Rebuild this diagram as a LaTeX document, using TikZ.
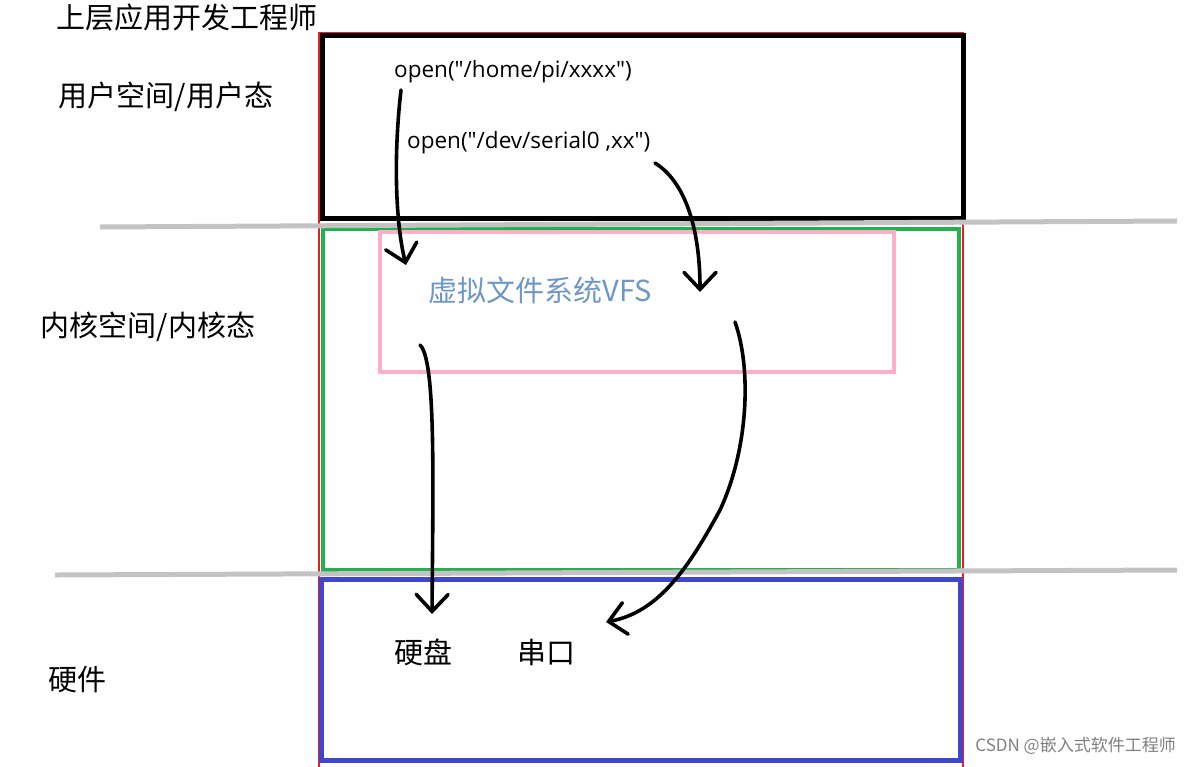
\documentclass[tikz,border=0pt]{standalone}
\usepackage{fontspec}
\setmainfont{Noto Sans CJK SC}
\newfontfamily\callfont{Open Sans}[Ligatures=TeXOff]
\usetikzlibrary{arrows.meta}
\definecolor{paintred}{RGB}{237,28,36}
\definecolor{paintgreen}{RGB}{34,177,76}
\definecolor{paintpink}{RGB}{255,174,201}
\definecolor{paintblue}{RGB}{63,72,204}
\definecolor{sepgray}{RGB}{195,195,195}
\definecolor{vfsblue}{RGB}{110,150,200}

\begin{document}
\begin{tikzpicture}[
  x=1pt, y=-1pt,
  layer/.style={font=\fontsize{29}{34}\selectfont, inner sep=0pt},
  call/.style={font=\callfont\fontsize{22.5}{26}\selectfont, anchor=west, inner sep=0pt},
  sep/.style={sepgray, line width=5pt},
  flow/.style={line width=3.6pt, line cap=round, line join=round,
    -{Straight Barb[length=17pt,width=32pt,line cap=round]}}
]
\useasboundingbox (0,0) rectangle (1190,766);
\draw[paintred, line width=2pt] (319,33) rectangle (963,768);
\draw[paintgreen, line width=4pt] (323,229) rectangle (959,570);
\draw[paintpink, line width=4pt] (380,232) rectangle (894,372);
\draw[paintblue, line width=5pt] (321,579) rectangle (960,760);
\draw[black, line width=5pt] (322,35) rectangle (963,218);
\draw[sep] (100,227) -- (1177,221);
\draw[sep] (55,575) -- (1177,570);

\node[layer] (dev) at (187,17) {上层应用开发工程师};
\node[layer] (user) at (166,97) {用户空间/用户态};
\node[layer] (kernel) at (148,327) {内核空间/内核态};
\node[layer] (hw) at (77,680) {硬件};
\node[call] (home) at (394,72) {open("/home/pi/xxxx")};
\node[call] (serial) at (407,143) {open("/dev/serial0 ,xx")};
\node[layer, text=vfsblue] (vfs) at (540,290) {虚拟文件系统VFS};
\node[layer] (disk) at (423,652) {硬盘};
\node[layer] (uart) at (546,652) {串口};
\node[font=\fontsize{17}{20}\selectfont, text=gray, anchor=east, inner sep=0pt] (mark) at (1176,746) {CSDN @嵌入式软件工程师};

\coordinate (homeout) at (401,90);
\coordinate (homein) at (406,265);
\coordinate (serialout) at (655,163);
\coordinate (serialin) at (700,292);
\coordinate (diskout) at (420,345);
\coordinate (diskin) at (432,614);
\coordinate (uartout) at (735,322);
\coordinate (uartbend) at (720,510);
\coordinate (uartin) at (606,622);

\draw[flow] (homeout) .. controls (393,160) and (396,225) .. (homein);
\draw[flow] (serialout) .. controls (690,185) and (700,240) .. (serialin);
\draw[flow] (diskout) .. controls (436,360) and (433,480) .. (diskin);
\draw[flow] (uartout) .. controls (752,370) and (748,450) .. (uartbend)
  .. controls (690,565) and (660,612) .. (uartin);
\end{tikzpicture}
\end{document}
